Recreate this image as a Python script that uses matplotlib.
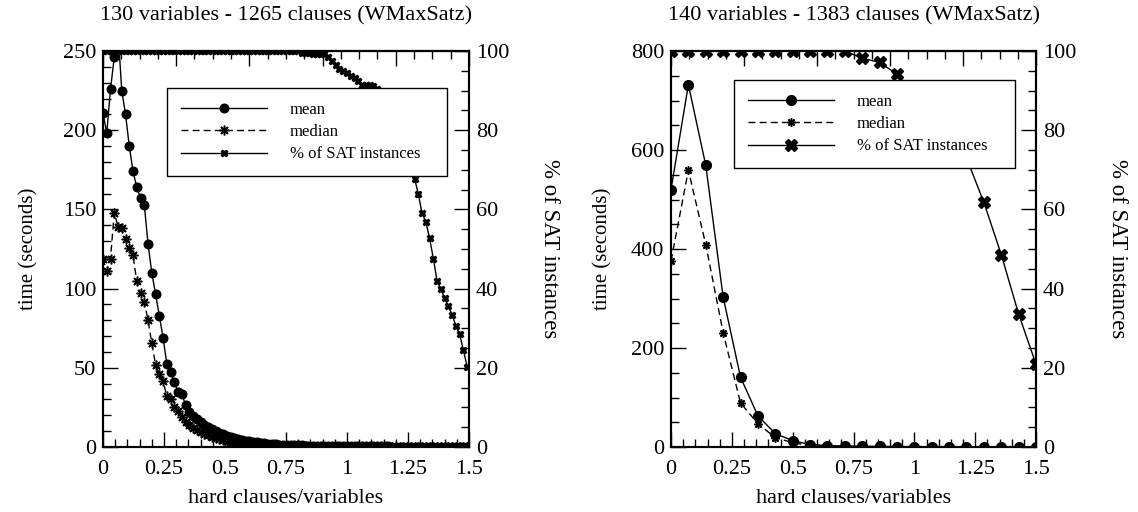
import matplotlib.pyplot as plt
import numpy as np
from matplotlib.ticker import MultipleLocator

plt.rcParams['font.family'] = ['Liberation Serif', 'DejaVu Serif']

# hard clauses / variables ratio of every run (step of 2 and 10 hard clauses)
ratio_130 = np.arange(0, 196, 2) / 130
ratio_140 = np.arange(0, 211, 10) / 140

# 130 variables - 1265 clauses
mean_130 = [211, 198, 226, 246, 262, 225, 210, 190, 174, 164,
            157, 153, 128, 110, 96.5, 83, 69, 52.5, 47.5, 41,
            35, 33.5, 26.5, 22, 19.5, 17.5, 15.5, 14, 12.5, 11.2,
            10, 9, 8, 7.1, 6.3, 5.6, 5, 4.5, 4, 3.6,
            3.2, 2.9, 2.6, 2.3, 2.1, 1.9, 1.7, 1.55, 1.4, 1.3,
            1.2, 1.1, 1.0, 0.95, 0.9, 0.85, 0.8, 0.75, 0.7, 0.66,
            0.62, 0.6, 0.57, 0.55, 0.52, 0.5, 0.48, 0.46, 0.44, 0.42,
            0.4, 0.39, 0.37, 0.36, 0.35, 0.33, 0.32, 0.31, 0.3, 0.29,
            0.28, 0.27, 0.26, 0.25, 0.24, 0.23, 0.22, 0.22, 0.21, 0.2,
            0.2, 0.19, 0.18, 0.18, 0.17, 0.17, 0.16, 0.16]
median_130 = [119, 111, 119, 148, 139, 138, 131, 125.5, 121, 104.5,
              97, 91.5, 80, 65.5, 52, 46, 41.5, 32, 30, 25.5,
              22.5, 19, 16, 14, 12.3, 10.8, 9.5, 8.3, 7.3, 6.4,
              5.6, 4.9, 4.3, 3.8, 3.3, 2.9, 2.5, 2.2, 1.9, 1.7,
              1.5, 1.3, 1.15, 1.0, 0.9, 0.8, 0.7, 0.62, 0.55, 0.5,
              0.46, 0.42, 0.39, 0.36, 0.33, 0.31, 0.29, 0.27, 0.25, 0.24,
              0.22, 0.21, 0.2, 0.19, 0.18, 0.17, 0.16, 0.15, 0.14, 0.14,
              0.13, 0.12, 0.12, 0.11, 0.11, 0.1, 0.1, 0.09, 0.09, 0.09,
              0.08, 0.08, 0.08, 0.07, 0.07, 0.07, 0.06, 0.06, 0.06, 0.06,
              0.05, 0.05, 0.05, 0.05, 0.05, 0.04, 0.04, 0.04]
sat_130 = [100] * 53 + [
    99.6, 99.6, 99.6, 99.2, 99.2, 99.2, 99.2, 98.5, 97.5, 96.5,
    95.5, 95, 94.4, 93.8, 93.2, 92.5, 91.5, 91.4, 91.4, 91.2,
    90.5, 89.5, 88, 86, 84, 81.5, 79, 76, 73.5, 70.5,
    67.8, 63.9, 59, 56.9, 52.7, 47.6, 41.9, 39.8, 37.6, 35.5,
    33.4, 30.6, 28.5, 24.5, 20.3]

# 140 variables - 1383 clauses
mean_140 = [520, 732, 569, 303, 141, 63, 27, 13, 5, 3, 2,
            1.5, 1.2, 1, 0.8, 0.7, 0.6, 0.5, 0.5, 0.4, 0.4, 0.3]
median_140 = [376, 559, 409, 231, 89, 47, 19, 8.7, 3, 1.5, 1,
              0.8, 0.6, 0.5, 0.4, 0.35, 0.3, 0.25, 0.2, 0.2, 0.15, 0.1]
sat_140 = [100, 100, 100, 100, 100, 100, 100, 100, 100, 100, 100,
           98.2, 97.1, 94.2, 89, 84, 79, 73, 61.8, 48.6, 33.6, 20.9]

x_ticks = [0, 0.25, 0.5, 0.75, 1, 1.25, 1.5]
x_tick_labels = ['0', '0.25', '0.5', '0.75', '1', '1.25', '1.5']

FIG_W, FIG_H = 1138, 512


def draw_panel(fig, box, ratio, mean, median, sat, title, tmax, tstep,
               tminor, sizes, legend_box, label_x):
    """One panel: run times on the left axis, % of SAT on the right one"""
    left, top, right, bottom = box
    w = right - left
    h = bottom - top
    ax = fig.add_axes([left / FIG_W, 1 - bottom / FIG_H, w / FIG_W, h / FIG_H])
    ax2 = ax.twinx()
    ms_circle, ms_star, ms_x = sizes

    l_mean, = ax.plot(ratio, mean, '-', color='black', lw=1.0,
                      marker='o', ms=ms_circle)
    l_med, = ax.plot(ratio, median, '--', color='black', lw=1.0,
                     marker=(8, 2, 0), ms=ms_star, mew=1.1, dashes=(5, 3))
    l_sat, = ax2.plot(ratio, sat, '-', color='black', lw=1.0,
                      marker='X', ms=ms_x)

    ax.set_xlim(0, 1.5)
    ax.set_ylim(0, tmax)
    ax2.set_ylim(0, 100)

    ax.set_xticks(x_ticks, x_tick_labels)
    ax.xaxis.set_minor_locator(MultipleLocator(0.05))
    ax.yaxis.set_major_locator(MultipleLocator(tstep))
    ax.yaxis.set_minor_locator(MultipleLocator(tminor))
    ax2.yaxis.set_major_locator(MultipleLocator(20))
    ax2.yaxis.set_minor_locator(MultipleLocator(5))

    # ticks on the top edge use their own spacing
    top_ax = ax.secondary_xaxis('top')
    top_ax.xaxis.set_major_locator(MultipleLocator(0.3))
    top_ax.xaxis.set_minor_locator(MultipleLocator(0.075))
    top_ax.tick_params(which='both', direction='in', labeltop=False)
    top_ax.tick_params(which='major', length=11, width=1)
    top_ax.tick_params(which='minor', length=6, width=1)
    top_ax.spines['top'].set_linewidth(1.5)

    for a in (ax, ax2):
        a.tick_params(which='both', direction='in', labelsize=16)
        a.tick_params(which='major', length=11, width=1, pad=5)
        a.tick_params(which='minor', length=6, width=1)
        for s in a.spines.values():
            s.set_linewidth(1.5)
    ax.tick_params(axis='x', which='major', pad=9)

    ax.set_xlabel('hard clauses/variables', fontsize=16)
    ax.xaxis.set_label_coords(0.5, -0.105)
    ax.set_ylabel('time (seconds)', fontsize=15)
    ax.yaxis.set_label_coords((label_x[0] - left) / w, 0.5)
    ax2.set_ylabel('% of SAT instances', fontsize=16.5, rotation=270,
                   va='center')
    ax2.yaxis.set_label_coords((label_x[1] - left) / w, 0.5)

    ax.text(0.5, 1 + 35 / h, title, transform=ax.transAxes,
            ha='center', va='center', fontsize=16)

    lx0, ly0, lx1, ly1 = legend_box
    leg = ax2.legend([l_mean, l_med, l_sat],
                     ['mean', 'median', '% of SAT instances'],
                     loc='upper left',
                     bbox_to_anchor=((lx0 - left) / w, (bottom - ly1) / h,
                                     (lx1 - lx0) / w, (ly1 - ly0) / h),
                     mode='expand', borderaxespad=0, fontsize=12,
                     handlelength=5.2, handletextpad=1.35, borderpad=0.82,
                     labelspacing=0.38, fancybox=False, framealpha=1,
                     edgecolor='black')
    leg.get_frame().set_linewidth(1.0)
    return ax, ax2


fig = plt.figure(figsize=(FIG_W / 100, FIG_H / 100), dpi=100)

draw_panel(fig, (103, 51, 469, 447), ratio_130, mean_130, median_130, sat_130,
           '130 variables - 1265 clauses (WMaxSatz)', 250, 50, 10,
           (6.2, 7, 5), (167, 88, 447, 177), (38, 550))
draw_panel(fig, (671, 51, 1036, 447), ratio_140, mean_140, median_140, sat_140,
           '140 variables - 1383 clauses (WMaxSatz)', 800, 200, 50,
           (7, 6, 8), (734, 80, 1015, 169), (612, 1118))

fig.savefig('out.png', dpi=100)
